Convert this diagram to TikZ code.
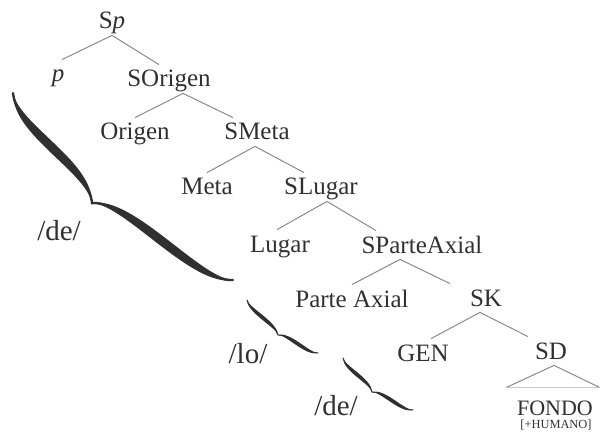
\documentclass[tikz,border=0pt]{standalone}
\usepackage{fontspec}
\setmainfont{Liberation Serif}
\usepackage{tikz}

\definecolor{tinta}{HTML}{303030}
\definecolor{gris}{HTML}{8A8A8A}
\definecolor{grisclaro}{HTML}{C8C8C8}

% llave caligrafica: inicio, angulo, largo, amplitud, pos. del pico, medio grosor
\newcommand{\Llave}[6]{%
  \begin{scope}[shift={#1}, rotate=#2]
    \fill[tinta] (0,0)
      .. controls ({0.8*#4},{0.8*#4-#6}) and ({#5-0.8*#4},{0.2*#4-#6}) .. (#5,#4)
      .. controls ({#5+0.8*#4},{0.2*#4-#6}) and ({#3-0.8*#4},{0.8*#4-#6}) .. (#3,0)
      .. controls ({#3-0.8*#4},{0.8*#4+#6}) and ({#5+0.8*#4},{0.2*#4+#6}) .. (#5,#4)
      .. controls ({#5-0.8*#4},{0.2*#4+#6}) and ({0.8*#4},{0.8*#4+#6}) .. (0,0) -- cycle;
    \draw[tinta, line width=0.2pt*#6, line cap=round] (0,0)
      .. controls ({0.8*#4},{0.8*#4}) and ({#5-0.8*#4},{0.2*#4}) .. (#5,#4)
      .. controls ({#5+0.8*#4},{0.2*#4}) and ({#3-0.8*#4},{0.8*#4}) .. (#3,0);
  \end{scope}}

\begin{document}
\begin{tikzpicture}[x=0.5pt, y=-0.5pt,
  nodo/.style={font=\fontsize{12.5}{14}\selectfont, text=tinta, inner sep=0pt,
    text height=11pt, text depth=3pt, anchor=base},
  fon/.style={font=\fontsize{14.5}{16}\selectfont, text=tinta, inner sep=0pt, anchor=base},
  rama/.style={draw=gris, line width=0.5pt}]

\useasboundingbox (0,0) rectangle (600,433);

% arbol
\node[nodo] (sp) at (112,29) {S\textit{p}};
\node[nodo] (p) at (58,82) {\textit{p}};
\node[nodo] (sorigen) at (169,87) {SOrigen};
\node[nodo] (origen) at (135,140) {Origen};
\node[nodo] (smeta) at (257,140) {SMeta};
\node[nodo] (meta) at (207,195) {Meta};
\node[nodo] (slugar) at (321,195) {SLugar};
\node[nodo] (lugar) at (280,252) {Lugar};
\node[nodo] (sparte) at (422,253) {SParteAxial};
\node[nodo] (parte) at (352,307) {Parte Axial};
\node[nodo] (sk) at (486,306) {SK};
\node[nodo] (gen) at (423,361) {GEN};
\node[nodo] (sd) at (551,359) {SD};
\node[nodo, font=\fontsize{11}{12}\selectfont] (fondo) at (555,415) {FONDO};
\node[nodo, font=\fontsize{6.2}{7}\selectfont, text height=5pt, text depth=1pt] (humano) at (556,428) {[+HUMANO]};

\draw[rama] ([xshift=2pt]p.north) -- (sp.south) -- ([xshift=-5pt]sorigen.north);
\draw[rama] (origen.north) -- ([xshift=7pt]sorigen.south) -- ([xshift=-12pt]smeta.north);
\draw[rama] (meta.north) -- ([xshift=-1pt]smeta.south) -- ([xshift=-8.5pt]slugar.north);
\draw[rama] ([xshift=-1.5pt]lugar.north) -- ([xshift=3pt]slugar.south) -- ([xshift=-23pt]sparte.north);
\draw[rama] (parte.north) -- ([xshift=-11pt]sparte.south) -- ([xshift=-18pt]sk.north);
\draw[rama] ([xshift=4pt]gen.north) -- ([xshift=-3pt]sk.south) -- ([xshift=-11.5pt]sd.north);

% triangulo de SD
\draw[rama] ([xshift=-24.5pt,yshift=2.5pt]fondo.north) -- ([xshift=1.5pt]sd.south) -- ([xshift=22.5pt,yshift=2.5pt]fondo.north);
\draw[grisclaro, line width=0.6pt] ([xshift=-24.5pt,yshift=2.5pt]fondo.north) -- ([xshift=22.5pt,yshift=2.5pt]fondo.north);

% llaves
\Llave{(13,93)}{-40.36}{288.7}{32.7}{131.5}{6}
\Llave{(247,300)}{-36.74}{88.6}{9.5}{45.7}{2.5}
\Llave{(343,358)}{-36.6}{87.2}{10}{43.6}{2.5}

\node[fon] (de1) at (59,241) {/de/};
\node[fon] (lo) at (248,363) {/lo/};
\node[fon] (de2) at (336,415) {/de/};

\end{tikzpicture}
\end{document}
